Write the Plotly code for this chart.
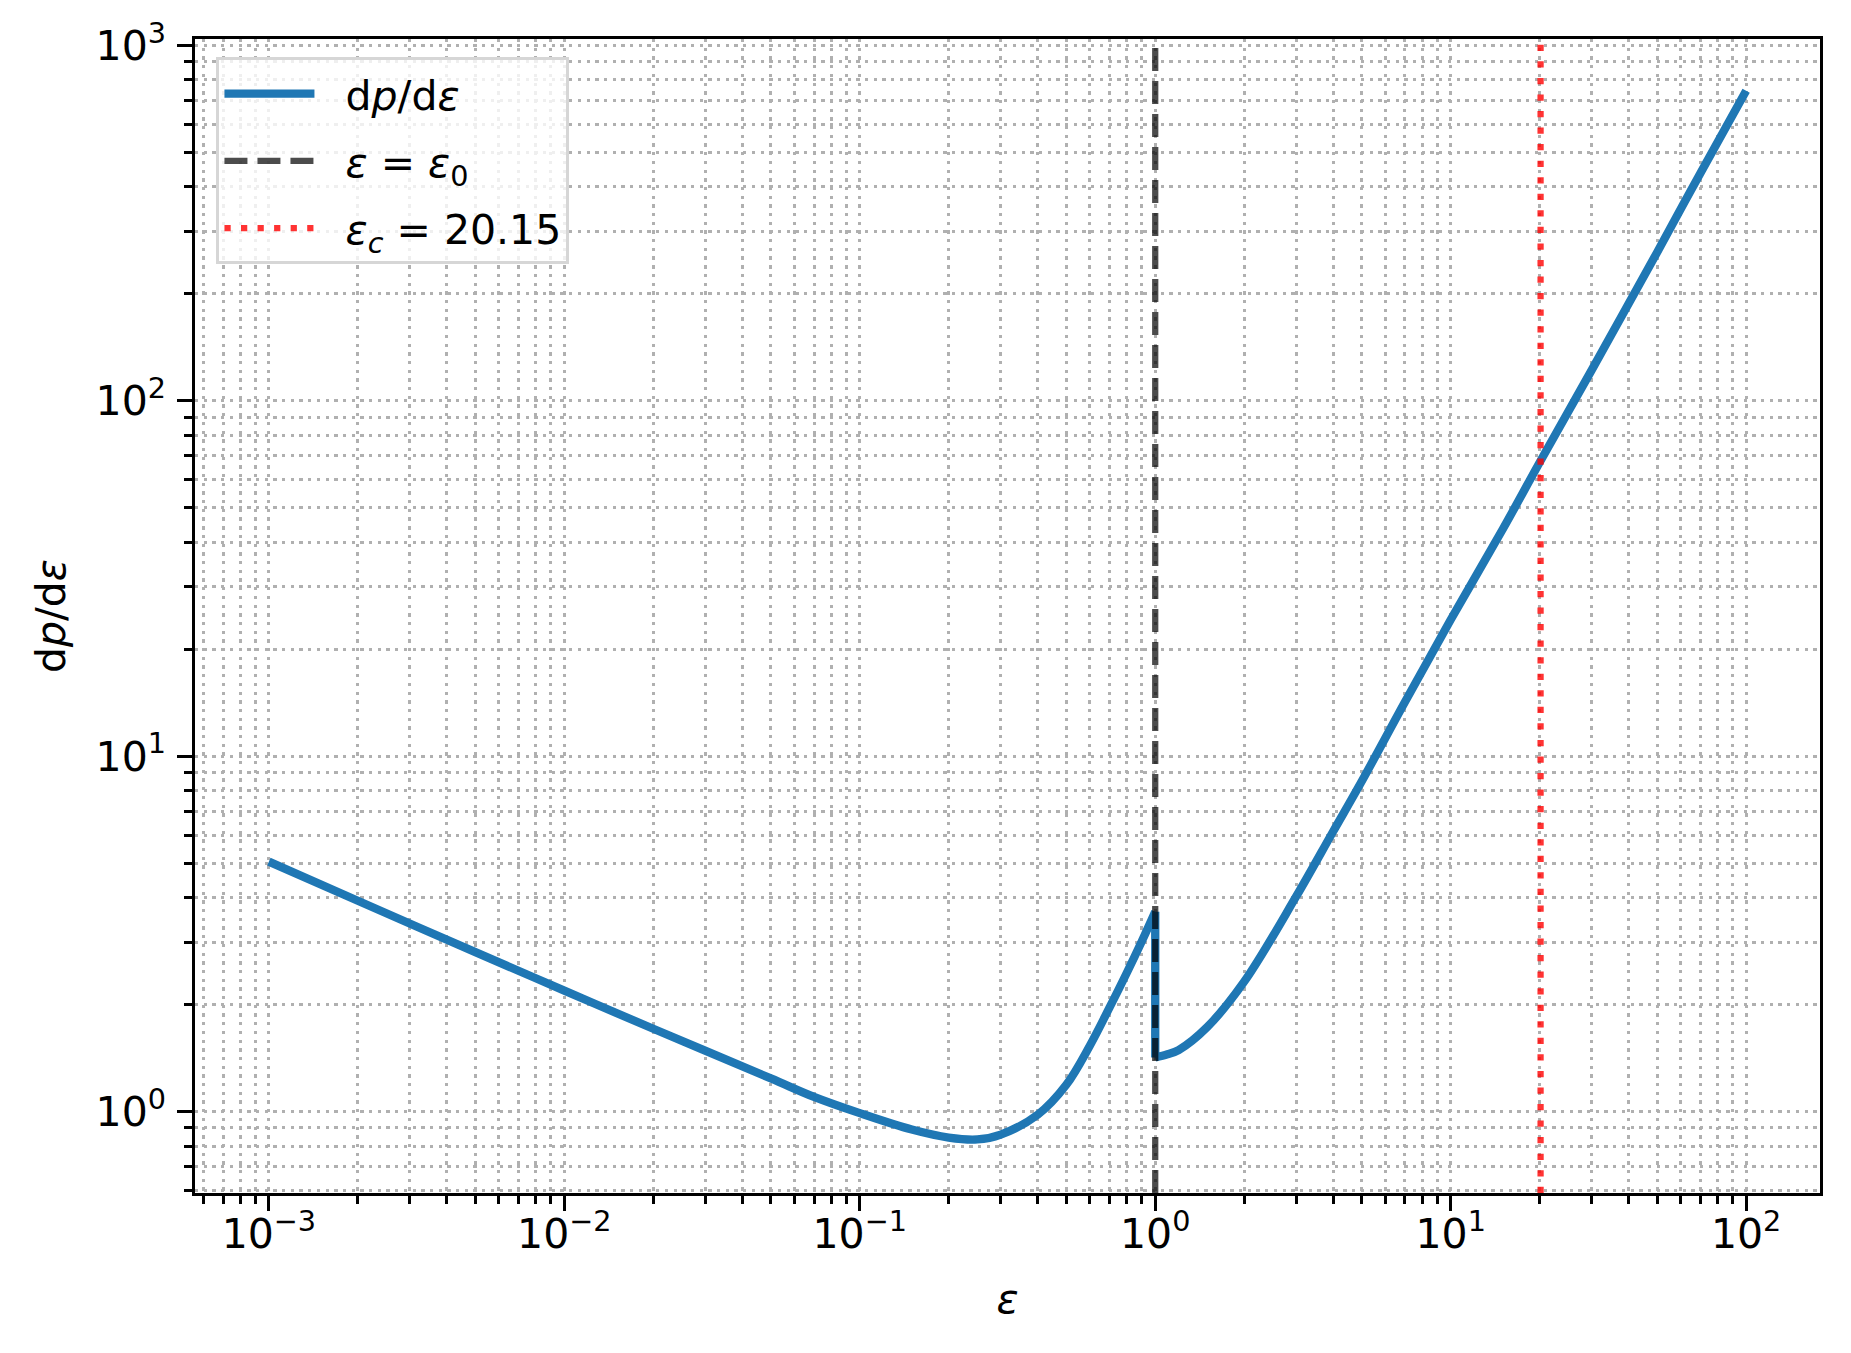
import plotly.graph_objects as go

# ---- data ----
left_eps = [0.001, 0.002, 0.005, 0.01, 0.02, 0.05, 0.07, 0.1, 0.15,
            0.2, 0.25, 0.3, 0.4, 0.5, 0.6, 0.7, 0.8, 0.9, 1.0]
left_dp = [5.05, 3.92, 2.81, 2.19, 1.71, 1.24, 1.10, 0.99, 0.89,
           0.845, 0.835, 0.862, 0.98, 1.19, 1.53, 1.96, 2.45, 3.01, 3.65]

right_eps = [1.0, 1.1, 1.2, 1.5, 2, 3, 4, 5, 7, 10, 15, 20.15, 30, 50, 70, 100]
right_dp = [1.42, 1.45, 1.49, 1.73, 2.32, 4.03, 6.14, 8.5, 14.2, 24.2,
            43.5, 67.8, 122, 262, 437, 745]

eps_0 = 1.0
eps_c = 20.15

x_major = [1e-3, 1e-2, 1e-1, 1, 10, 100]
x_major_text = ["10<sup>−3</sup>", "10<sup>−2</sup>", "10<sup>−1</sup>",
                "10<sup>0</sup>", "10<sup>1</sup>", "10<sup>2</sup>"]
y_major = [1, 10, 100, 1000]
y_major_text = ["10<sup>0</sup>", "10<sup>1</sup>", "10<sup>2</sup>", "10<sup>3</sup>"]

x_minor = [m * 10.0 ** k for k in range(-4, 3) for m in range(2, 10)]
y_minor = [m * 10.0 ** k for k in range(-1, 4) for m in range(2, 10)]

# ---- styling ----
FONT = "DejaVu Sans"
FS = 41
BLUE = "#1f77b4"
GRID = "#b0b0b0"
NB = "\u00a0\u00a0"

fig = go.Figure()

fig.add_trace(go.Scatter(
    x=left_eps, y=left_dp, mode="lines", line=dict(color=BLUE, width=8.3, shape="spline"),
    name=NB + "d<i>p</i>/d<i>ε</i>", legendgroup="curve", showlegend=True))
fig.add_trace(go.Scatter(
    x=[left_eps[-1], right_eps[0]], y=[left_dp[-1], right_dp[0]], mode="lines",
    line=dict(color=BLUE, width=8.3), legendgroup="curve", showlegend=False))
fig.add_trace(go.Scatter(
    x=right_eps, y=right_dp, mode="lines", line=dict(color=BLUE, width=8.3, shape="spline"),
    legendgroup="curve", showlegend=False))

# legend-only entries for the vertical lines
fig.add_trace(go.Scatter(
    x=[None], y=[None], mode="lines",
    line=dict(color="rgba(0,0,0,0.7)", width=6.25, dash="23px,10px"),
    name=NB + "<i>ε</i> = <i>ε</i><sub>0</sub>", legendgroup="e0"))
fig.add_trace(go.Scatter(
    x=[None], y=[None], mode="lines",
    line=dict(color="rgba(255,0,0,0.8)", width=6.25, dash="6.25px,10.3px"),
    name=NB + "<i>ε<sub>c</sub></i> = 20.15", legendgroup="ec"))

fig.add_shape(type="line", xref="x", yref="y domain", x0=eps_0, x1=eps_0, y0=0, y1=1,
              line=dict(color="rgba(0,0,0,0.7)", width=6.25, dash="23px,10px"), layer="above")
fig.add_shape(type="line", xref="x", yref="y domain", x0=eps_c, x1=eps_c, y0=0, y1=1,
              line=dict(color="rgba(255,0,0,0.8)", width=6.25, dash="6.25px,10.3px"), layer="above")

axis_common = dict(
    type="log",
    showline=True, mirror=True, linecolor="black", linewidth=3.3,
    ticks="outside", ticklen=14.6, tickwidth=3.3, tickcolor="black",
    showgrid=True, gridcolor=GRID, gridwidth=3.3, griddash="3.3px,5.4px",
    zeroline=False,
    tickfont=dict(family=FONT, size=FS, color="black"),
)

fig.update_xaxes(
    **axis_common,
    ticklabelstandoff=-12,
    range=[-3.25, 2.25],
    tickmode="array", tickvals=x_major, ticktext=x_major_text,
    minor=dict(tickmode="array", tickvals=x_minor, ticks="outside", ticklen=8.3,
               tickwidth=2.5, tickcolor="black", showgrid=True, gridcolor=GRID,
               gridwidth=3.3, griddash="3.3px,5.4px"),
    title=dict(text="<i>ε</i>", font=dict(family=FONT, size=FS, color="black"), standoff=28),
)
fig.update_yaxes(
    **axis_common,
    ticklabelstandoff=3,
    range=[-0.229, 3.018],
    tickmode="array", tickvals=y_major, ticktext=y_major_text,
    minor=dict(tickmode="array", tickvals=y_minor, ticks="outside", ticklen=8.3,
               tickwidth=2.5, tickcolor="black", showgrid=True, gridcolor=GRID,
               gridwidth=3.3, griddash="3.3px,5.4px"),
    title=dict(text="d<i>p</i>/d<i>ε</i>", font=dict(family=FONT, size=FS, color="black"),
               standoff=18),
)

# page body has an 8px default margin: shrink the figure so the plot area lands right
fig.update_layout(
    width=1843, height=1345,
    margin=dict(l=187, r=31, t=31, b=160, autoexpand=False),
    paper_bgcolor="white", plot_bgcolor="white",
    font=dict(family=FONT, size=FS, color="black"),
    legend=dict(
        x=0.0132, y=0.984, xanchor="left", yanchor="top",
        bgcolor="rgba(255,255,255,0.8)", bordercolor="#d6d6d6", borderwidth=3,
        font=dict(family=FONT, size=FS, color="black"),
        traceorder="grouped", tracegroupgap=11, itemwidth=90,
    ),
)

fig.write_html("out.html")
